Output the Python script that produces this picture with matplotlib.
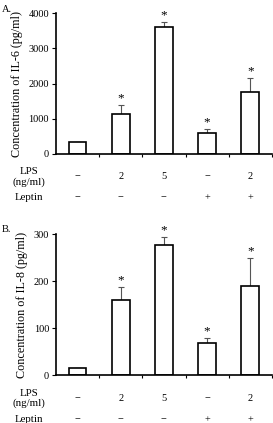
"""
IL-6 / IL-8 concentration bar charts (panels A and B).
"""
import matplotlib
matplotlib.use("Agg")
import matplotlib.pyplot as plt
import matplotlib.transforms as mtransforms

groups = [0, 1, 2, 3, 4]
lps = ["\u2212", "2", "5", "\u2212", "2"]
leptin = ["\u2212", "\u2212", "\u2212", "+", "+"]

il6 = [331, 1135, 3603, 605, 1768]
il6_err = [0, 255, 142, 104, 379]
il6_sig = [False, True, True, True, True]

il8 = [16.5, 160, 276, 68, 190]
il8_err = [0, 27.5, 17, 11, 60]
il8_sig = [False, True, True, True, True]

plt.rcParams['font.family'] = ['Liberation Serif', 'DejaVu Serif']

fig = plt.figure(figsize=(2.73, 4.23), dpi=100)


def panel(rect, vals, errs, sig, ymax, step, ylabel, letter, star_off):
    ax = fig.add_axes(rect)
    ax.bar(groups, vals, width=0.41, color="white", edgecolor="black",
           linewidth=1.2, zorder=2)
    ax.errorbar(groups, vals, yerr=[[0] * len(errs), errs], fmt="none",
                ecolor="#555555", elinewidth=0.8, capsize=2.5, capthick=0.8,
                zorder=1)
    for x, v, e, s in zip(groups, vals, errs, sig):
        if s:
            ax.text(x, v + e + star_off, "*", ha="center", va="center",
                    fontsize=9.5)
    ax.set_xlim(-0.5, 4.5)
    ax.set_ylim(0, ymax)
    ax.set_yticks(range(0, ymax + 1, step))
    ax.set_xticks([0.5, 1.5, 2.5, 3.5, 4.5])
    ax.set_xticklabels([])
    ax.tick_params(axis="x", length=2, width=0.8)
    ax.tick_params(axis="y", length=3, width=0.8, labelsize=7.5, pad=2)
    for side in ["top", "right"]:
        ax.spines[side].set_visible(False)
    for side in ["left", "bottom"]:
        ax.spines[side].set_linewidth(1.2)
    ax.set_ylabel(ylabel, fontsize=8.7, labelpad=4)

    trans = mtransforms.blended_transform_factory(ax.transData, ax.transAxes)
    ax.text(-1.12, -0.163, "LPS\n(ng/ml)", transform=trans, ha="center",
            va="center", fontsize=7.8, linespacing=1.15)
    ax.text(-1.12, -0.312, "Leptin", transform=trans, ha="center",
            va="center", fontsize=7.8)
    for x, a, b in zip(groups, lps, leptin):
        ax.text(x, -0.163, a, transform=trans, ha="center", va="center",
                fontsize=7.5)
        ax.text(x, -0.312, b, transform=trans, ha="center", va="center",
                fontsize=7.5)
    fig.text(0.008, rect[1] + rect[3] + 0.01, letter, fontsize=7.5,
             ha="left", va="center")
    return ax


panel([0.205, 0.636, 0.791, 0.3326], il6, il6_err, il6_sig, 4000, 1000,
      "Concentration of IL-6 (pg/ml)", "A.", 190)
panel([0.205, 0.1123, 0.791, 0.3345], il8, il8_err, il8_sig, 300, 100,
      "Concentration of IL-8 (pg/ml)", "B.", 14)

fig.savefig("out.png", dpi=100)
